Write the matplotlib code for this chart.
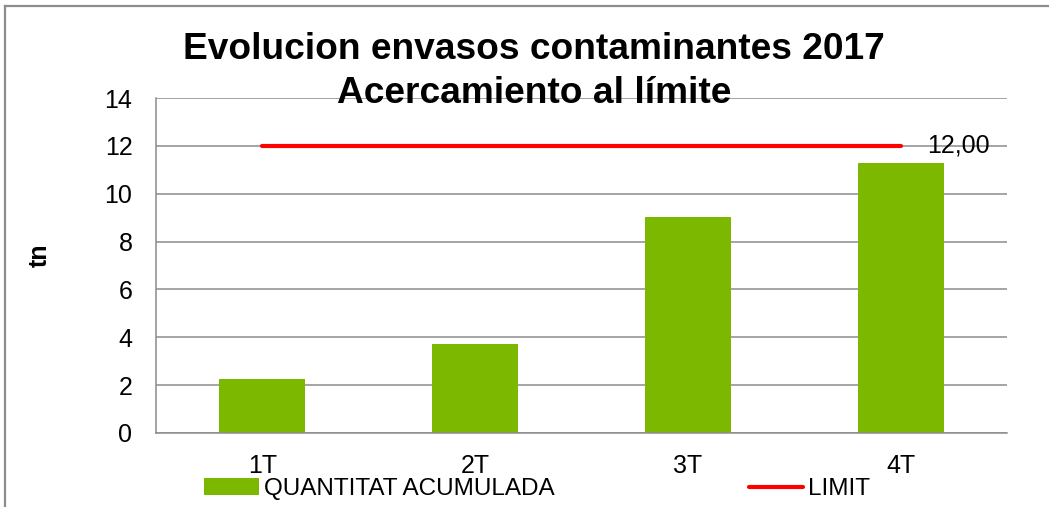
"""Evolucion envasos contaminantes 2017 - bar chart with limit line."""

import matplotlib
matplotlib.use('Agg')
import matplotlib.pyplot as plt
from matplotlib.lines import Line2D

plt.rcParams['font.family'] = ['Liberation Sans', 'DejaVu Sans']

quarters = ['1T', '2T', '3T', '4T']
quantitat = [2.24, 3.72, 9.03, 11.28]
limit = [12.0, 12.0, 12.0, 12.0]
limit_label = '12,00'
yticks = [0, 2, 4, 6, 8, 10, 12, 14]

green = '#7cb800'
red = '#ff0000'
grid_col = '#8c8c8c'

W, H = 1049, 507
fig = plt.figure(figsize=(W / 100, H / 100), dpi=100)
ax = fig.add_axes([156 / W, 1 - 433 / H, 851 / W, 335 / H])

x = list(range(len(quarters)))
bars = ax.bar(x, quantitat, width=0.405, color=green, zorder=2,
              label='QUANTITAT ACUMULADA')
line, = ax.plot(x, limit, color=red, lw=3, solid_capstyle='round',
                zorder=3, label='LIMIT')
ax.annotate(limit_label, (x[-1], limit[-1]), xytext=(19, 0),
            textcoords='offset points', ha='left', va='center',
            fontsize=18, zorder=4)

ax.set_xlim(-0.5, len(quarters) - 0.5)
ax.set_ylim(0, 14)
ax.set_yticks(yticks)
ax.set_xticks(x)
ax.set_xticklabels(quarters)
ax.tick_params(axis='both', length=0, labelsize=18)
ax.tick_params(axis='y', pad=17)
ax.tick_params(axis='x', pad=15)
ax.yaxis.grid(True, color=grid_col, lw=1.1, zorder=0)
ax.set_axisbelow(True)
for side in ['top', 'right']:
    ax.spines[side].set_visible(False)
for side in ['left', 'bottom']:
    ax.spines[side].set_color(grid_col)
    ax.spines[side].set_linewidth(1.1)

ax.set_ylabel('tn', fontsize=18, fontweight='bold')
ax.yaxis.set_label_coords(-0.123, 0.531)

fig.text(534 / W, 1 - 32 / H,
         'Evolucion envasos contaminantes 2017\nAcercamiento al límite',
         ha='center', va='top', fontsize=26.7, fontweight='bold',
         linespacing=1.32)

fig.legend([bars, line], ['QUANTITAT ACUMULADA', 'LIMIT'], ncol=2,
           loc='center left', bbox_to_anchor=(204 / W, 1 - 489 / H),
           frameon=False, fontsize=17.5, handlelength=2.25,
           handletextpad=0.2, columnspacing=8.0, borderpad=0,
           borderaxespad=0)

# outer chart border (top and left edges visible)
fig.add_artist(Line2D([5 / W, 1], [1 - 6 / H, 1 - 6 / H],
                      transform=fig.transFigure, color='#8c8c8c', lw=1.6))
fig.add_artist(Line2D([5 / W, 5 / W], [0, 1 - 6 / H],
                      transform=fig.transFigure, color='#8c8c8c', lw=1.6))

fig.savefig('out.png', dpi=100)
